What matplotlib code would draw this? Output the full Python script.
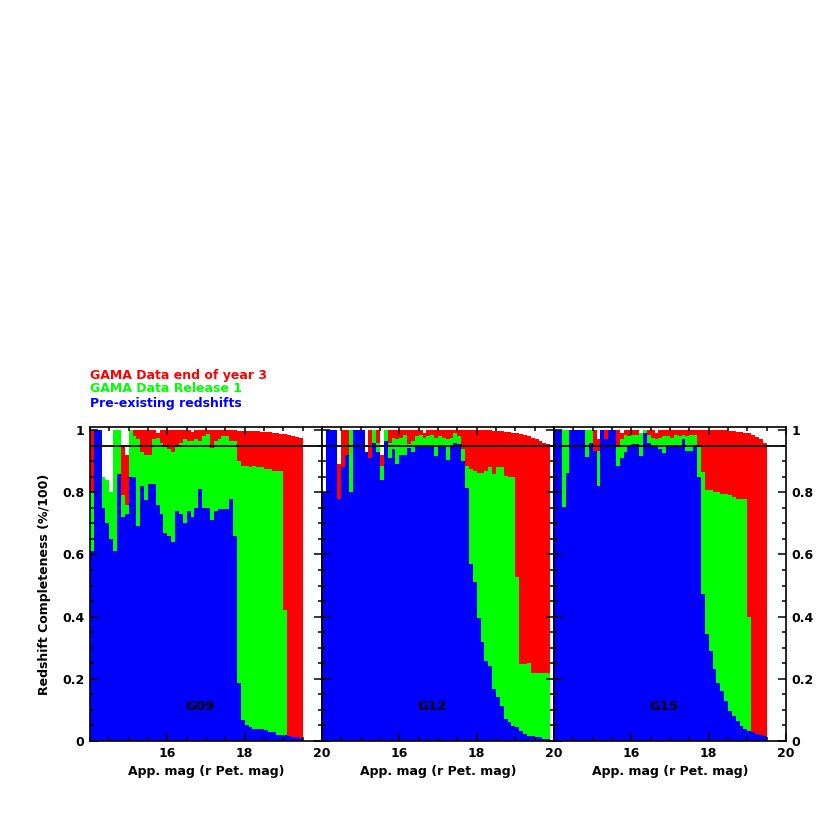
import numpy as np
import matplotlib
matplotlib.use("Agg")
import matplotlib.pyplot as plt
from matplotlib.ticker import FixedLocator, MultipleLocator, FuncFormatter


# magnitude bins: 0.1 mag wide, starting at r = 14.0
MAG_MIN = 14.0
BIN_WIDTH = 0.1

# completeness per bin: pre-existing redshifts, + GAMA DR1, + GAMA end of year 3
g09_pre = [0.61, 1.0, 1.0, 0.75, 0.70, 0.65, 0.61, 0.86, 0.72, 0.73,
           0.85, 0.85, 0.69, 0.82, 0.775, 0.826, 0.826, 0.76, 0.73, 0.67,
           0.66, 0.64, 0.74, 0.73, 0.70, 0.74, 0.72, 0.75, 0.81, 0.75,
           0.75, 0.71, 0.74, 0.745, 0.745, 0.745, 0.78, 0.66, 0.185, 0.067,
           0.05, 0.045, 0.04, 0.04, 0.038, 0.035, 0.03, 0.028, 0.02, 0.02,
           0.018, 0.015, 0.012, 0.012, 0.01]
g09_dr1 = [0.80, 1.0, 1.0, 0.85, 0.84, 0.80, 1.0, 1.0, 0.79, 0.76,
           1.0, 0.98, 0.97, 0.93, 0.92, 0.92, 0.97, 0.975, 0.96, 0.95,
           0.94, 0.93, 0.95, 0.96, 0.97, 0.965, 0.965, 0.97, 0.965, 0.98,
           0.987, 0.944, 0.965, 0.97, 0.98, 0.98, 0.965, 0.965, 0.90, 0.885,
           0.885, 0.88, 0.885, 0.88, 0.88, 0.875, 0.875, 0.87, 0.87, 0.87,
           0.42, 0.015, 0.012, 0.012, 0.01]
g09_yr3 = [1.0, 1.0, 1.0, 0.85, 0.84, 0.80, 1.0, 1.0, 0.95, 0.92,
           1.0, 1.0, 1.0, 1.0, 1.0, 1.0, 1.0, 0.99, 1.0, 1.0,
           1.0, 1.0, 1.0, 1.0, 1.0, 1.0, 0.995, 1.0, 1.0, 1.0,
           1.0, 1.0, 1.0, 1.0, 1.0, 1.0, 1.0, 1.0, 0.998, 0.998,
           0.997, 0.997, 0.996, 0.996, 0.995, 0.995, 0.993, 0.99, 0.99, 0.988,
           0.987, 0.985, 0.982, 0.978, 0.975]

g12_pre = [0.80, 1.0, 1.0, 1.0, 0.78, 0.88, 0.92, 0.80, 1.0, 1.0,
           1.0, 0.93, 0.91, 0.96, 0.93, 0.84, 0.965, 0.91, 0.94, 0.89,
           0.92, 0.92, 0.944, 0.93, 0.946, 0.946, 0.946, 0.946, 0.946, 0.917,
           0.946, 0.945, 0.905, 0.95, 0.96, 0.955, 0.90, 0.815, 0.57, 0.51,
           0.397, 0.317, 0.258, 0.242, 0.167, 0.14, 0.113, 0.07, 0.06, 0.049,
           0.044, 0.033, 0.022, 0.017, 0.015, 0.012, 0.012, 0.008, 0.006]
g12_dr1 = [0.80, 1.0, 1.0, 1.0, 0.78, 0.88, 0.92, 1.0, 1.0, 1.0,
           1.0, 0.93, 0.91, 1.0, 0.96, 0.885, 1.0, 0.96, 0.975, 0.97,
           0.975, 0.985, 0.955, 0.965, 0.98, 0.985, 0.975, 0.98, 0.985, 0.975,
           0.98, 0.975, 0.97, 0.975, 0.99, 0.98, 0.94, 0.885, 0.874, 0.87,
           0.863, 0.863, 0.87, 0.88, 0.858, 0.88, 0.88, 0.853, 0.85, 0.848,
           0.526, 0.247, 0.247, 0.252, 0.22, 0.22, 0.22, 0.22, 0.22]
g12_yr3 = [0.80, 1.0, 1.0, 1.0, 0.89, 1.0, 1.0, 1.0, 1.0, 1.0,
           1.0, 0.93, 1.0, 1.0, 1.0, 0.92, 1.0, 1.0, 1.0, 1.0,
           1.0, 1.0, 1.0, 1.0, 1.0, 1.0, 0.99, 1.0, 1.0, 1.0,
           1.0, 1.0, 1.0, 1.0, 1.0, 1.0, 1.0, 1.0, 1.0, 1.0,
           1.0, 1.0, 1.0, 1.0, 0.998, 0.998, 0.997, 0.995, 0.993, 0.99,
           0.99, 0.988, 0.985, 0.98, 0.975, 0.972, 0.965, 0.96, 0.955]

g15_pre = [1.0, 1.0, 0.753, 0.861, 1.0, 1.0, 1.0, 1.0, 0.914, 0.96,
           0.933, 0.82, 1.0, 0.97, 1.0, 1.0, 0.885, 0.91, 0.93, 0.95,
           0.955, 0.955, 0.917, 0.99, 0.96, 0.945, 0.945, 0.94, 0.925, 0.945,
           0.948, 0.948, 0.948, 0.97, 0.933, 0.933, 0.95, 0.85, 0.472, 0.344,
           0.29, 0.23, 0.188, 0.162, 0.13, 0.097, 0.081, 0.065, 0.049, 0.038,
           0.033, 0.028, 0.022, 0.018, 0.015]
g15_dr1 = [1.0, 1.0, 1.0, 1.0, 1.0, 1.0, 1.0, 1.0, 1.0, 1.0,
           0.933, 0.933, 1.0, 0.97, 1.0, 1.0, 0.95, 0.97, 0.985, 0.98,
           0.985, 0.985, 0.99, 1.0, 0.985, 0.975, 0.97, 0.975, 0.98, 0.98,
           0.975, 0.985, 0.98, 0.985, 0.98, 0.985, 0.985, 0.945, 0.864, 0.807,
           0.807, 0.80, 0.80, 0.794, 0.794, 0.79, 0.785, 0.78, 0.78, 0.78,
           0.40, 0.028, 0.022, 0.018, 0.015]
g15_yr3 = [1.0, 1.0, 1.0, 1.0, 1.0, 1.0, 1.0, 1.0, 1.0, 1.0,
           1.0, 0.97, 1.0, 1.0, 1.0, 1.0, 1.0, 0.99, 1.0, 1.0,
           1.0, 1.0, 0.99, 1.0, 1.0, 1.0, 0.99, 1.0, 1.0, 1.0,
           1.0, 1.0, 1.0, 1.0, 1.0, 1.0, 1.0, 1.0, 1.0, 1.0,
           1.0, 1.0, 1.0, 1.0, 1.0, 0.998, 0.997, 0.995, 0.993, 0.99,
           0.99, 0.985, 0.978, 0.97, 0.96]

fields = [("G09", g09_pre, g09_dr1, g09_yr3),
          ("G12", g12_pre, g12_dr1, g12_yr3),
          ("G15", g15_pre, g15_dr1, g15_yr3)]

legend_labels = ["GAMA Data end of year 3", "GAMA Data Release 1", "Pre-existing redshifts"]

_RED = "#ff0000"
_GREEN = "#00ff00"
_BLUE = "#0000ff"
_FONT = dict(family="DejaVu Sans", weight="bold", size=9)

plt.rcParams["font.family"] = "DejaVu Sans"
plt.rcParams["font.weight"] = "bold"
plt.rcParams["font.size"] = 9

fig = plt.figure(figsize=(8.3, 8.3), dpi=100)

W, H = 830.0, 830.0
left, bottom = 90 / W, (H - 741) / H
pw, ph = 232 / W, 314 / H

yfmt = FuncFormatter(lambda v, pos: "%g" % round(v, 2))

for i, (name, pre, dr1, yr3) in enumerate(fields):
    ax = fig.add_axes([left + i * pw, bottom, pw, ph])
    edges = MAG_MIN + BIN_WIDTH * np.arange(len(pre) + 1)
    # cumulative fractions drawn back to front
    ax.stairs(yr3, edges, fill=True, color=_RED, lw=0)
    ax.stairs(dr1, edges, fill=True, color=_GREEN, lw=0)
    ax.stairs(pre, edges, fill=True, color=_BLUE, lw=0)
    ax.axhline(0.95, color="k", lw=1.3)

    ax.set_xlim(14, 20)
    ax.set_ylim(0, 1.01)
    ax.xaxis.set_major_locator(FixedLocator([16, 18, 20]))
    ax.xaxis.set_minor_locator(MultipleLocator(0.5))
    ax.yaxis.set_major_locator(MultipleLocator(0.2))
    ax.yaxis.set_minor_locator(MultipleLocator(0.05))
    ax.yaxis.set_major_formatter(yfmt)
    ax.tick_params(which="both", direction="in", top=True, right=True,
                   width=1.1, colors="k", labelsize=9, pad=4)
    ax.tick_params(which="major", length=6)
    ax.tick_params(which="minor", length=3)
    ax.tick_params(axis="y", labelleft=(i == 0), labelright=(i == 2))
    for sp in ax.spines.values():
        sp.set_linewidth(1.2)

    ax.set_xlabel("App. mag (r Pet. mag)", fontsize=9, fontweight="bold", labelpad=4)
    if i == 0:
        ax.set_ylabel("Redshift Completeness (%/100)", fontsize=9,
                      fontweight="bold", labelpad=8)
    ax.text(16.85, 0.11, name, ha="center", va="center", fontsize=9.5,
            fontweight="bold", color="k")

for j, (lab, col) in enumerate(zip(legend_labels, [_RED, _GREEN, _BLUE])):
    fig.text(90 / W, 1 - (375 + 14 * j) / H, lab, color=col, ha="left",
             va="center", **_FONT)

fig.savefig("out.png", dpi=100)
